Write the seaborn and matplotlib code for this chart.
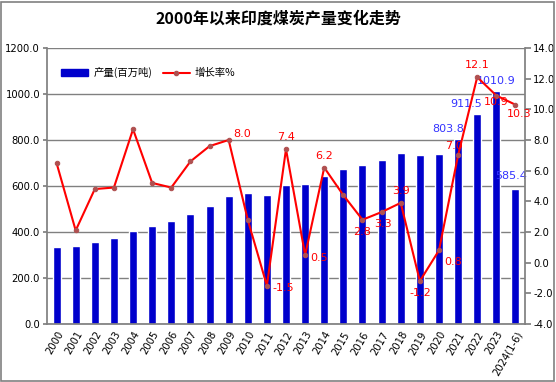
import numpy as np
import pandas as pd
import matplotlib
matplotlib.use("Agg")
import matplotlib.pyplot as plt
import seaborn as sns
from matplotlib.patches import Rectangle
from matplotlib.lines import Line2D

years = ["2000", "2001", "2002", "2003", "2004", "2005", "2006", "2007", "2008",
         "2009", "2010", "2011", "2012", "2013", "2014", "2015", "2016", "2017",
         "2018", "2019", "2020", "2021", "2022", "2023", "2024(1-6)"]
output = [335, 340, 358, 374, 405, 427, 449, 478, 513, 557, 570, 561, 605, 609,
          644, 674, 691, 713, 743, 735, 739, 803.8, 911.5, 1010.9, 585.4]
growth = [6.5, 2.1, 4.8, 4.9, 8.7, 5.2, 4.9, 6.6, 7.6, 8.0, 2.8, -1.5, 7.4, 0.5,
          6.2, 4.4, 2.8, 3.3, 3.9, -1.2, 0.8, 7.0, 12.1, 10.9, 10.3]
output_labels = {21: "803.8", 22: "911.5", 23: "1010.9", 24: "585.4"}
growth_labels = {9: "8.0", 11: "-1.5", 12: "7.4", 13: "0.5", 14: "6.2", 16: "2.8",
                 17: "3.3", 18: "3.9", 19: "-1.2", 20: "0.8", 21: "7.0", 22: "12.1",
                 23: "10.9", 24: "10.3"}
left_ticks = [0, 200, 400, 600, 800, 1000, 1200]
right_ticks = [-4, -2, 0, 2, 4, 6, 8, 10, 12, 14]
title = "2000年以来印度煤炭产量变化走势"
legend_names = ["产量(百万吨)", "增长率%"]

sns.set_theme(style="white")
plt.rcParams['font.family'] = ['DejaVu Sans', 'Noto Sans CJK SC']
plt.rcParams['text.color'] = 'black'
plt.rcParams['xtick.color'] = 'black'
plt.rcParams['ytick.color'] = 'black'
cjk = ['Noto Sans CJK SC', 'DejaVu Sans']

df = pd.DataFrame({"year": years, "output": output, "growth": growth,
                   "pos": np.arange(len(years))})

fig = plt.figure(figsize=(5.56, 3.82), dpi=100)
ax = fig.add_axes([47/556, 1-324/382, (525-47)/556, (324-48)/382])

sns.barplot(data=df, x="year", y="output", color="#0000cc", width=0.42,
            saturation=1, ax=ax, zorder=2)
ax.set_ylim(0, 1200)
ax.set_yticks(left_ticks)
ax.set_yticklabels([f"{v:.1f}" for v in left_ticks], fontsize=7.2, color="black")
ax.yaxis.grid(True, color="#808080", linewidth=1)
ax.set_axisbelow(True)
ax.set_xlim(-0.5, len(years)-0.5)
ax.set_xlabel("")
ax.set_ylabel("")
ax.set_xticks(df["pos"])
ax.set_xticklabels(years, rotation=60, fontsize=7.2, ha="right", rotation_mode="anchor",
                   color="black")
for s in ["top", "right"]:
    ax.spines[s].set_visible(False)
for s in ["left", "bottom"]:
    ax.spines[s].set_color("#808080")
ax.tick_params(axis="y", length=3, color="#808080", pad=2, left=True)
ax.tick_params(axis="x", length=0, pad=4)

ax2 = ax.twinx()
sns.lineplot(data=df, x="pos", y="growth", color="#ff0000", linewidth=1.5,
             marker="o", markersize=3.2, markerfacecolor="#b05050",
             markeredgecolor="#b05050", sort=False, ax=ax2, zorder=3)
ax2.set_ylim(-4, 14)
ax2.set_yticks(right_ticks)
ax2.set_yticklabels([f"{v:.1f}" for v in right_ticks], fontsize=7.2, color="black")
ax2.set_ylabel("")
ax2.set_xlabel("")
for s in ["top", "left", "bottom"]:
    ax2.spines[s].set_visible(False)
ax2.spines["right"].set_color("#808080")
ax2.tick_params(axis="y", length=4, color="#808080", pad=2, right=True)
ax2.set_xlim(-0.5, len(years)-0.5)

# growth labels
goff = {9: (3, 4, "left", "center"), 11: (4, -2, "left", "center"),
        12: (0, 5, "center", "bottom"), 13: (4, -2, "left", "center"),
        14: (0, 5, "center", "bottom"), 16: (0, -5, "center", "top"),
        17: (1, -5, "center", "top"), 18: (0, 5, "center", "bottom"),
        19: (0, -5, "center", "top"), 20: (4, -5, "left", "top"),
        21: (-3, 3, "center", "bottom"), 22: (0, 5, "center", "bottom"),
        23: (0, -1, "center", "top"), 24: (3, -3, "center", "top")}
for i, lab in growth_labels.items():
    dx, dy, ha, va = goff[i]
    ax2.annotate(lab, (i, growth[i]), xytext=(dx, dy), textcoords="offset points",
                 ha=ha, va=va, color="#ff0000", fontsize=8, zorder=5)

ooff = {21: (-7, 4), 22: (-8, 4), 23: (0, 4), 24: (-3, 6)}
for i, lab in output_labels.items():
    dx, dy = ooff[i]
    ax.annotate(lab, (i, output[i]), xytext=(dx, dy), textcoords="offset points",
                ha="center", va="bottom", color="#3333ff", fontsize=8, zorder=5)

handles = [Rectangle((0, 0), 1, 1, color="#0000cc"),
           Line2D([0], [0], color="#ff0000", lw=1.5, marker="o", markersize=3,
                  markerfacecolor="#b05050", markeredgecolor="#b05050")]
leg = ax.legend(handles, legend_names, loc="upper left", bbox_to_anchor=(0.01, 0.965),
                ncol=2, frameon=False, prop={"family": cjk, "size": 7.5},
                handlelength=2.6, handleheight=0.6, columnspacing=1.0, handletextpad=0.5,
                labelcolor="black")

fig.text(0.5, 1-19/382, title, ha="center", va="center", fontsize=11.5,
         fontweight="bold", family=cjk, color="black")

fig.patches.append(Rectangle((0.002, 0.003), 0.994, 0.993, transform=fig.transFigure,
                             fill=False, edgecolor="#808080", linewidth=1.2))

fig.savefig("out.png", dpi=100)
